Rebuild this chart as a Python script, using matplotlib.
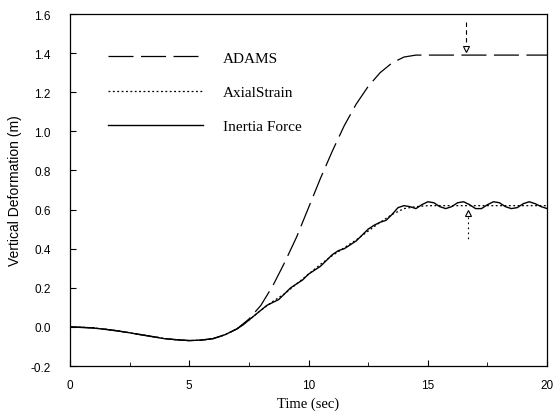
import numpy as np
import matplotlib.pyplot as plt
from matplotlib.ticker import MultipleLocator

# === Data ===
t_adams = [0, 0.5, 1, 1.5, 2, 2.5, 3, 3.5, 4, 4.5, 5, 5.5, 6, 6.5, 7, 7.5, 8, 8.5, 9, 9.5,
           10, 10.5, 11, 11.5, 12, 12.5, 13, 13.5, 14, 14.5, 15, 16, 17, 18, 19, 20]
v_adams = [0, -0.002, -0.005, -0.012, -0.02, -0.03, -0.04, -0.05, -0.06, -0.066, -0.07, -0.068,
           -0.06, -0.04, -0.01, 0.04, 0.11, 0.21, 0.33, 0.46, 0.61, 0.76, 0.90, 1.03, 1.14, 1.23,
           1.30, 1.35, 1.38, 1.39, 1.39, 1.39, 1.39, 1.39, 1.39, 1.39]

t_axial = [0, 0.5, 1, 1.5, 2, 2.5, 3, 3.5, 4, 4.5, 5, 5.5, 6, 6.5, 7, 7.5, 8, 8.5, 9, 9.5,
           10, 10.5, 11, 11.5, 12, 12.5, 13, 13.5, 14, 14.5, 15, 16, 17, 18, 19, 20]
v_axial = [0, -0.002, -0.005, -0.012, -0.02, -0.03, -0.04, -0.05, -0.06, -0.066, -0.07, -0.068,
           -0.06, -0.04, -0.01, 0.035, 0.085, 0.13, 0.17, 0.22, 0.27, 0.32, 0.365, 0.405, 0.445,
           0.49, 0.535, 0.575, 0.605, 0.615, 0.62, 0.62, 0.62, 0.62, 0.62, 0.62]

t_inertia = [0, 0.5, 1, 1.5, 2, 2.5, 3, 3.5, 4, 4.5, 5, 5.5, 6, 6.5,
             7.0, 7.25, 7.5, 7.75, 8.0, 8.25, 8.5, 8.75, 9.0, 9.25, 9.5, 9.75,
             10.0, 10.25, 10.5, 10.75, 11.0, 11.25, 11.5, 11.75, 12.0, 12.25, 12.5, 12.75,
             13.0, 13.25, 13.5, 13.75, 14.0, 14.25, 14.5, 14.75, 15.0, 15.25, 15.5, 15.75,
             16.0, 16.25, 16.5, 16.75, 17.0, 17.25, 17.5, 17.75, 18.0, 18.25, 18.5, 18.75,
             19.0, 19.25, 19.5, 19.75, 20.0]
v_inertia = [0, -0.003, -0.006, -0.013, -0.021, -0.03, -0.041, -0.051, -0.061, -0.066, -0.07,
             -0.067, -0.06, -0.04,
             -0.01, 0.01, 0.035, 0.06, 0.085, 0.11, 0.125, 0.14, 0.17, 0.20, 0.22, 0.24,
             0.27, 0.29, 0.31, 0.34, 0.37, 0.39, 0.40, 0.42, 0.44, 0.47, 0.50, 0.52,
             0.535, 0.545, 0.575, 0.61, 0.62, 0.615, 0.605, 0.625, 0.64, 0.635, 0.615, 0.605,
             0.615, 0.635, 0.64, 0.625, 0.605, 0.605, 0.625, 0.64, 0.635, 0.615, 0.605, 0.61,
             0.63, 0.64, 0.63, 0.615, 0.605]

# marker arrows
arrow_t = [16.6, 16.7]
arrow_top = [1.56, 0.58]
arrow_end = [1.42, 0.45]

fig = plt.figure(figsize=(5.6, 4.14), dpi=100)
ax = fig.add_axes([0.125, 0.1135, 0.852, 0.8502])

ax.plot(t_adams, v_adams, color='black', lw=0.9, dashes=(20, 6), label='ADAMS')
ax.plot(t_axial, v_axial, color='black', lw=0.9, dashes=(1.5, 2), label='AxialStrain')
ax.plot(t_inertia, v_inertia, color='black', lw=1.0, label='Inertia Force')

# ADAMS arrow (down)
ax.plot([arrow_t[0], arrow_t[0]], [arrow_top[0], arrow_end[0] + 0.02], color='black', lw=0.8,
        dashes=(4, 3))
ax.plot(arrow_t[0], arrow_end[0], marker='v', ms=5, mfc='white', mec='black', mew=0.8)
# Axial strain arrow (up)
ax.plot([arrow_t[1], arrow_t[1]], [arrow_top[1] - 0.02, arrow_end[1]], color='black', lw=0.8,
        dashes=(1.5, 3))
ax.plot(arrow_t[1], arrow_top[1], marker='^', ms=5, mfc='white', mec='black', mew=0.8)

ax.set_xlim(0, 20)
ax.set_ylim(-0.2, 1.6)
ax.xaxis.set_major_locator(MultipleLocator(5))
ax.xaxis.set_minor_locator(MultipleLocator(2.5))
ax.tick_params(which='both', direction='in', top=False, right=False, labelsize=8.5)
ax.tick_params(which='major', length=4)
ax.tick_params(which='minor', length=3)
ax.tick_params(axis='y', pad=14)
ax.tick_params(axis='x', pad=9)
ax.set_yticks(np.arange(-0.2, 1.61, 0.2))
ax.set_yticklabels([f"{y:.1f}" for y in np.arange(-0.2, 1.61, 0.2)])
for lbl in ax.get_xticklabels() + ax.get_yticklabels():
    lbl.set_family('Liberation Sans')
for s in ax.spines.values():
    s.set_linewidth(0.9)

ax.set_xlabel('Time (sec)', family='Liberation Serif', fontsize=10.5, labelpad=4)
ax.set_ylabel('Vertical Deformation (m)', family='Liberation Sans', fontsize=10, labelpad=6)

ax.legend(loc='upper left', bbox_to_anchor=(0.08, 0.895), frameon=False,
          prop={'family': 'Liberation Serif', 'size': 11}, handlelength=6.2,
          handletextpad=1.3, labelspacing=1.35, borderpad=0, borderaxespad=0)

fig.savefig('out.png', dpi=100)
